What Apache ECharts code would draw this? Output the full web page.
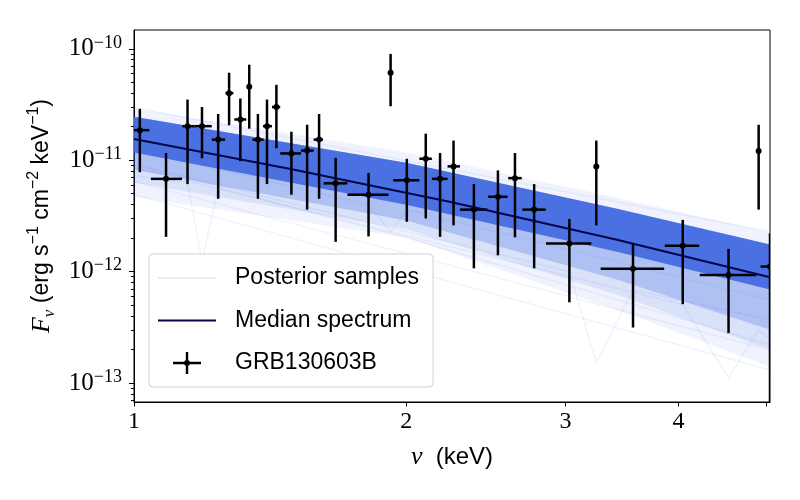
<!DOCTYPE html>
<html>
<head>
    <meta charset="utf-8">
    <title>GRB130603B spectrum</title>
    <script src="https://cdn.jsdelivr.net/npm/echarts@6/dist/echarts.min.js"></script>
    <style>
        html, body { margin: 0; padding: 0; background: #fff; }
        #main { width: 800px; height: 500px; }
    </style>
</head>
<body>
<div id="main"></div>
<script type="text/javascript">
    // data points (keV, erg/s/cm2/keV)
    var nu     = [1.015, 1.085, 1.146, 1.189, 1.239, 1.274, 1.311, 1.341, 1.371, 1.403, 1.437, 1.493, 1.554, 1.602, 1.671, 1.817,
                  1.922, 2.003, 2.102, 2.180, 2.256, 2.376, 2.526, 2.638, 2.770, 3.030, 3.245, 3.563, 4.044, 4.544, 4.906, 5.05];
    var nuLo   = [0.990, 1.044, 1.131, 1.166, 1.219, 1.262, 1.291, 1.338, 1.352, 1.389, 1.421, 1.451, 1.530, 1.580, 1.621, 1.722,
                  1.919, 1.935, 2.068, 2.135, 2.222, 2.293, 2.464, 2.593, 2.688, 2.855, 3.240, 3.281, 3.863, 4.223, 4.900, 4.93];
    var nuHi   = [1.040, 1.130, 1.166, 1.219, 1.261, 1.288, 1.331, 1.344, 1.391, 1.421, 1.451, 1.530, 1.580, 1.618, 1.722, 1.911,
                  1.925, 2.068, 2.135, 2.222, 2.293, 2.460, 2.589, 2.684, 2.853, 3.204, 3.250, 3.857, 4.217, 4.880, 4.910, 5.20];
    var flux   = [1.86e-11, 6.8e-12, 2.02e-11, 2.02e-11, 1.53e-11, 4.0e-11, 2.32e-11, 4.56e-11, 1.53e-11, 2.02e-11, 3.0e-11, 1.15e-11,
                  1.22e-11, 1.53e-11, 6.2e-12, 4.9e-12, 6.1e-11, 6.6e-12, 1.03e-11, 6.8e-12, 8.8e-12, 3.6e-12, 4.7e-12, 6.9e-12,
                  3.6e-12, 1.79e-12, 8.8e-12, 1.06e-12, 1.71e-12, 9.3e-13, 1.21e-11, 1.11e-12];
    var fluxLo = [7.8e-12, 2.05e-12, 6.1e-12, 1.04e-11, 4.5e-12, 2.06e-11, 9.8e-12, 1.92e-11, 4.5e-12, 6.1e-12, 1.28e-11, 4.9e-12,
                  3.6e-12, 4.5e-12, 1.85e-12, 2.07e-12, 3.05e-11, 2.8e-12, 3.0e-12, 2.05e-12, 2.6e-12, 1.07e-12, 1.4e-12, 2.03e-12,
                  1.07e-12, 5.3e-13, 2.6e-12, 3.15e-13, 5.1e-13, 2.8e-13, 3.6e-12, 1e-14];
    var fluxHi = [2.89e-11, 1.16e-11, 3.5e-11, 3.0e-11, 2.6e-11, 6.1e-11, 3.58e-11, 7.2e-11, 2.6e-11, 3.5e-11, 4.75e-11, 1.8e-11,
                  2.08e-11, 2.6e-11, 1.05e-11, 7.7e-12, 9.0e-11, 1.03e-11, 1.73e-11, 1.16e-11, 1.5e-11, 6.1e-12, 8.1e-12, 1.16e-11,
                  6.1e-12, 2.97e-12, 1.5e-11, 1.81e-12, 2.91e-12, 1.6e-12, 2.08e-11, 2.2e-12];

    // median spectrum
    var medNu   = [1.0, 1.49, 2.24, 3.42, 5.05];
    var medFlux = [1.55e-11, 8.35e-12, 4.22e-12, 1.93e-12, 8.9e-13];

    // spread of the posterior samples
    var bandNu  = [1.0, 2.0, 3.42, 5.05];
    var outerHi = [2.91e-11, 1.17e-11, 4.61e-12, 2.24e-12];
    var coreHi  = [2.46e-11, 9.5e-12, 3.67e-12, 1.75e-12];
    var coreLo  = [1.17e-11, 3.99e-12, 1.51e-12, 6.9e-13];
    var midLo   = [8.2e-12, 2.87e-12, 8.5e-13, 3.0e-13];
    var fadeLo  = [6.3e-12, 2.4e-12, 6.2e-13, 2.0e-13];
    var outerLo = [4.7e-12, 2.02e-12, 4.55e-13, 1.4e-13];

    // a few stray samples
    var strayNu = [
        [1.0, 1.146, 1.189, 1.239, 2.0, 5.05],
        [1.0, 3.03, 3.245, 3.563, 5.05],
        [1.0, 4.044, 4.544, 4.906, 5.05],
        [1.0, 1.817, 1.922, 2.003, 5.05],
        [1.0, 5.05],
        [1.0, 5.05],
        [1.0, 5.05]
    ];
    var strayFlux = [
        [7.27e-12, 6.29e-12, 1.23e-12, 5.67e-12, 2.02e-12, 2.2e-13],
        [9.13e-12, 9.98e-13, 1.52e-13, 6.88e-13, 3.7e-13],
        [8.58e-12, 5.04e-13, 1.11e-13, 3.0e-13, 2.44e-13],
        [1.245e-11, 3.99e-12, 2.28e-12, 3.6e-12, 5.59e-13],
        [4.91e-12, 1.31e-13],
        [6.42e-12, 1.99e-13],
        [2.97e-11, 2.28e-12]
    ];

    // axis ticks
    var xTicks  = [1, 2, 3, 4];
    var xTicks2 = [1, 2, 3, 4, 5];
    var yTicks  = [1e-13, 1e-12, 1e-11, 1e-10];
    var xMin = 1, xMax = 5.05, yMin = 6.75e-14, yMax = 1.475e-10;

    var yMinor = [];
    [1e-14, 1e-13, 1e-12, 1e-11, 1e-10].forEach(function (d) {
        for (var k = 2; k <= 9; k++) {
            var v = k * d;
            if (v > yMin && v < yMax) yMinor.push(v);
        }
    });

    var blue = '65,105,225';
    var faint = 'rgba(' + blue + ',0.08)';
    var navy = '#05054a';
    var serif = '"Liberation Serif", serif';
    var sans = '"Liberation Sans", sans-serif';

    function bandPoly(hi, lo, color) {
        return {
            name: 'Posterior samples',
            type: 'custom',
            clip: true,
            silent: true,
            itemStyle: { color: faint },
            data: [[1, 1e-11]],
            renderItem: function (params, api) {
                var pts = [];
                for (var i = 0; i < bandNu.length; i++) pts.push(api.coord([bandNu[i], hi[i]]));
                for (var j = bandNu.length - 1; j >= 0; j--) pts.push(api.coord([bandNu[j], lo[j]]));
                return { type: 'polygon', shape: { points: pts }, style: { fill: color } };
            }
        };
    }

    var series = [];
    // stray sample lines
    strayNu.forEach(function (xs, k) {
        series.push({
            name: 'Posterior samples',
            type: 'line',
            symbol: 'none',
            silent: true,
            itemStyle: { color: 'rgba(' + blue + ',0.12)' },
            lineStyle: { color: faint, width: 1.5 },
            data: xs.map(function (x, i) { return [x, strayFlux[k][i]]; })
        });
    });
    series.push(bandPoly(outerHi, outerLo, 'rgba(' + blue + ',0.08)'));
    series.push(bandPoly(coreHi, fadeLo, 'rgba(' + blue + ',0.12)'));
    series.push(bandPoly(coreHi, midLo, 'rgba(' + blue + ',0.28)'));
    series.push(bandPoly(coreHi, coreLo, 'rgba(' + blue + ',0.92)'));
    // median
    series.push({
        name: 'Median spectrum',
        type: 'line',
        symbol: 'none',
        silent: true,
        lineStyle: { color: navy, width: 2 },
        itemStyle: { color: navy },
        data: medNu.map(function (x, i) { return [x, medFlux[i]]; })
    });
    // data with error bars
    series.push({
        name: 'GRB130603B',
        type: 'custom',
        clip: true,
        itemStyle: { color: '#000' },
        encode: { x: 0, y: 1 },
        data: nu.map(function (x, i) { return [x, flux[i], nuLo[i], nuHi[i], fluxLo[i], fluxHi[i]]; }),
        renderItem: function (params, api) {
            var p = api.coord([api.value(0), api.value(1)]);
            var l = api.coord([api.value(2), api.value(1)]);
            var r = api.coord([api.value(3), api.value(1)]);
            var b = api.coord([api.value(0), api.value(4)]);
            var t = api.coord([api.value(0), api.value(5)]);
            var st = { stroke: '#000', lineWidth: 2.5 };
            return {
                type: 'group',
                children: [
                    { type: 'line', shape: { x1: l[0], y1: p[1], x2: r[0], y2: p[1] }, style: st },
                    { type: 'line', shape: { x1: p[0], y1: b[1], x2: p[0], y2: t[1] }, style: st },
                    { type: 'circle', shape: { cx: p[0], cy: p[1], r: 3 }, style: { fill: '#000' } }
                ]
            };
        }
    });

    var lineIcon = 'path://M0,0L0.01,0L0.01,0.01Z M58,24L57.99,24L57.99,23.99Z M0,11H58V13H0Z';

    var myChart = echarts.init(document.getElementById('main'), null, { renderer: 'canvas' });
    var option = {
        animation: false,
        backgroundColor: '#fff',
        grid: { left: 134, right: 30, top: 30, bottom: 98, show: true, borderColor: '#000', borderWidth: 1, backgroundColor: 'transparent' },
        legend: {
            orient: 'vertical',
            left: 149,
            top: 254,
            padding: [12, 14, 12, 9],
            backgroundColor: 'rgba(255,255,255,0.8)',
            borderColor: '#d0d0d0',
            borderWidth: 1,
            borderRadius: 4,
            itemWidth: 58,
            itemHeight: 24,
            itemGap: 18.5,
            selectedMode: false,
            textStyle: { fontFamily: sans, fontSize: 23, color: '#000', lineHeight: 24, padding: [0, 0, 0, 14] },
            data: [
                { name: 'Posterior samples', icon: lineIcon, itemStyle: { color: 'rgba(' + blue + ',0.12)' } },
                { name: 'Median spectrum', icon: lineIcon, itemStyle: { color: navy } },
                {
                    name: 'GRB130603B',
                    icon: 'path://M0,0L0.01,0L0.01,0.01Z M58,24L57.99,24L57.99,23.99Z M15,10.8H43V13.2H15Z M27.8,1H30.2V23H27.8Z M32,12A3,3 0 1,1 26,12A3,3 0 1,1 32,12Z'
                }
            ]
        },
        xAxis: {
            type: 'log',
            logBase: 10,
            min: xMin,
            max: xMax,
            name: '{i|ν}{s|  (keV)}',
            nameLocation: 'middle',
            nameGap: 40,
            nameTextStyle: {
                rich: {
                    i: { fontFamily: serif, fontStyle: 'italic', fontSize: 26, lineHeight: 30, color: '#000' },
                    s: { fontFamily: sans, fontSize: 24, lineHeight: 30, color: '#000' }
                }
            },
            axisLine: { show: true, lineStyle: { color: '#000', width: 1 } },
            axisTick: { show: true, length: 4.5, lineStyle: { color: '#000', width: 1 }, customValues: xTicks2 },
            axisLabel: {
                customValues: xTicks,
                margin: 8,
                fontFamily: serif,
                fontSize: 24,
                color: '#000',
                formatter: function (v) { return String(Math.round(v)); }
            },
            splitLine: { show: false },
            minorTick: { show: false }
        },
        yAxis: [
            {
                type: 'log',
                logBase: 10,
                min: yMin,
                max: yMax,
                name: '{i|F}{sub|ν}{s| (erg s}{sup|−1}{s| cm}{sup|−2}{s| keV}{sup|−1}{s|)}',
                nameLocation: 'middle',
                nameRotate: 90,
                nameGap: 74,
                nameTextStyle: {
                    rich: {
                        i: { fontFamily: serif, fontStyle: 'italic', fontSize: 26, lineHeight: 32, color: '#000' },
                        sub: { fontFamily: serif, fontStyle: 'italic', fontSize: 17, lineHeight: 22, verticalAlign: 'bottom', color: '#000' },
                        s: { fontFamily: sans, fontSize: 23, lineHeight: 32, color: '#000' },
                        sup: { fontFamily: sans, fontSize: 16, lineHeight: 18, verticalAlign: 'top', color: '#000' }
                    }
                },
                axisLine: { show: true, lineStyle: { color: '#000', width: 1 } },
                axisTick: { show: true, length: 5, lineStyle: { color: '#000', width: 1 }, customValues: yTicks },
                axisLabel: {
                    customValues: yTicks,
                    margin: 12,
                    color: '#000',
                    formatter: function (v) {
                        var e = Math.round(Math.log10(v));
                        return '{b|10}{e|−' + Math.abs(e) + '}';
                    },
                    rich: {
                        b: { fontFamily: serif, fontSize: 25, lineHeight: 30, color: '#000' },
                        e: { fontFamily: serif, fontSize: 18, lineHeight: 20, verticalAlign: 'top', color: '#000' }
                    }
                },
                splitLine: { show: false }
            },
            {
                type: 'log',
                logBase: 10,
                min: yMin,
                max: yMax,
                position: 'left',
                axisLine: { show: false },
                axisTick: { show: true, length: 3, lineStyle: { color: '#000', width: 1 }, customValues: yMinor },
                axisLabel: { show: false },
                splitLine: { show: false }
            }
        ],
        series: series
    };
    myChart.setOption(option);
</script>
</body>
</html>
